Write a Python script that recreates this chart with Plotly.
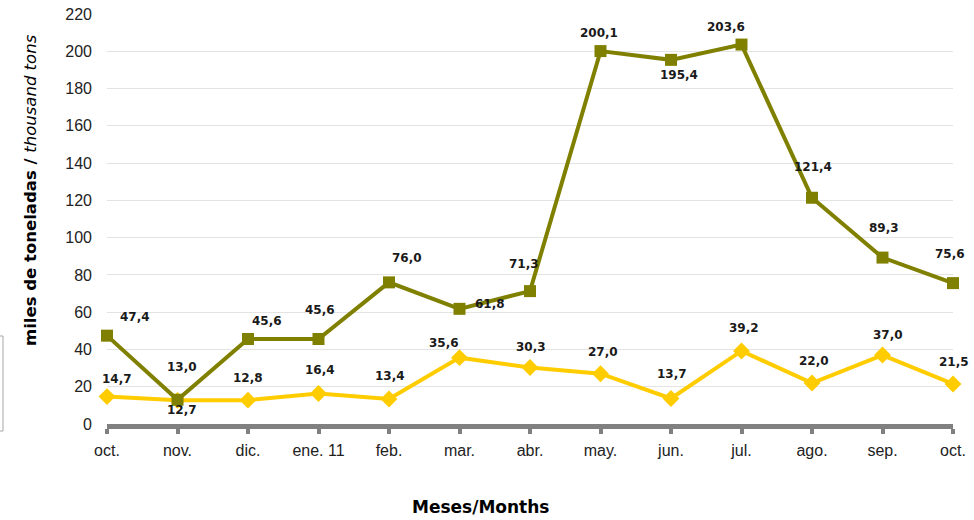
import plotly.graph_objects as go

months = ["oct.", "nov.", "dic.", "ene. 11", "feb.", "mar.", "abr.", "may.", "jun.", "jul.", "ago.", "sep.", "oct."]
series_olive = [47.4, 13.0, 45.6, 45.6, 76.0, 61.8, 71.3, 200.1, 195.4, 203.6, 121.4, 89.3, 75.6]
series_yellow = [14.7, 12.7, 12.8, 16.4, 13.4, 35.6, 30.3, 27.0, 13.7, 39.2, 22.0, 37.0, 21.5]
y_ticks = [0, 20, 40, 60, 80, 100, 120, 140, 160, 180, 200, 220]

# label pixel offsets (dx, dy with dy upward)
olive_off = [(28, 19), (4, 33), (19, 18), (1, 29), (18, 24), (30, 5), (-6, 27),
             (-2, 18), (8, -15), (-16, 18), (1, 31), (1, 30), (-3, 29)]
yellow_off = [(10, 18), (4, -10), (0, 22), (1, 23), (1, 23), (-16, 15), (1, 21),
              (2, 22), (1, 24), (2, 23), (2, 22), (5, 20), (1, 22)]

OLIVE = "#808000"
YELLOW = "#FFCC00"
xs = list(range(len(months)))

fig = go.Figure()
fig.add_trace(go.Scatter(x=xs, y=series_yellow, mode="lines+markers",
                         line=dict(color=YELLOW, width=4),
                         marker=dict(symbol="diamond", size=13, color=YELLOW),
                         showlegend=False, hoverinfo="skip", cliponaxis=False))
fig.add_trace(go.Scatter(x=xs, y=series_olive, mode="lines+markers",
                         line=dict(color=OLIVE, width=4),
                         marker=dict(symbol="square", size=12, color=OLIVE),
                         showlegend=False, hoverinfo="skip", cliponaxis=False))

def fmt(v):
    return f"{v:.1f}".replace(".", ",")

label_font = dict(family="DejaVu Sans", size=12, color="#1a1a1a", weight="bold")
annots = []
for x, v, (dx, dy) in zip(xs, series_olive, olive_off):
    annots.append(dict(x=x, y=v, xref="x", yref="y", text=fmt(v), showarrow=False,
                       xshift=dx, yshift=dy, font=label_font))
for x, v, (dx, dy) in zip(xs, series_yellow, yellow_off):
    annots.append(dict(x=x, y=v, xref="x", yref="y", text=fmt(v), showarrow=False,
                       xshift=dx, yshift=dy, font=label_font))

annots.append(dict(x=0, y=(424 - 190) / 410, xref="paper", yref="paper",
                   xshift=-77, textangle=-90, showarrow=False,
                   xanchor="center", yanchor="middle",
                   text="<b>miles de toneladas / </b><i>thousand tons</i>",
                   font=dict(family="DejaVu Sans", size=16.5, color="#000000")))
annots.append(dict(x=(480 - 107) / 846, y=0, xref="paper", yref="paper",
                   yshift=-83, showarrow=False, xanchor="center", yanchor="middle",
                   text="<b>Meses/Months</b>",
                   font=dict(family="DejaVu Sans", size=17, color="#000000")))

fig.update_layout(
    width=974, height=520,
    margin=dict(l=107, r=21, t=14, b=96),
    paper_bgcolor="white", plot_bgcolor="white",
    annotations=annots,
    shapes=[dict(type="rect", xref="paper", yref="paper",
                 x0=-112 / 846, x1=-104 / 846, y0=(424 - 431) / 410, y1=(424 - 336) / 410,
                 line=dict(color="#a6a6a6", width=1), fillcolor="rgba(0,0,0,0)")],
    xaxis=dict(range=[0, 12], tickvals=xs, ticktext=months, showgrid=False,
               zeroline=False, showline=True, linecolor="#808080", linewidth=5,
               ticks="outside", ticklen=5, tickwidth=4, tickcolor="#808080",
               ticklabelstandoff=3, automargin=False,
               tickfont=dict(family="Liberation Sans, Arial", size=16, color="#222222")),
    yaxis=dict(range=[0, 220], tickvals=y_ticks, showgrid=True, gridcolor="#e3e3e3",
               gridwidth=1, zeroline=False, showline=False, ticks="",
               ticklabelstandoff=14, automargin=False,
               tickfont=dict(family="Liberation Sans, Arial", size=16, color="#222222")),
)

fig.write_html("out.html", config={"displayModeBar": False},
               post_script="document.body.style.margin='0';document.body.style.overflow='hidden';")
